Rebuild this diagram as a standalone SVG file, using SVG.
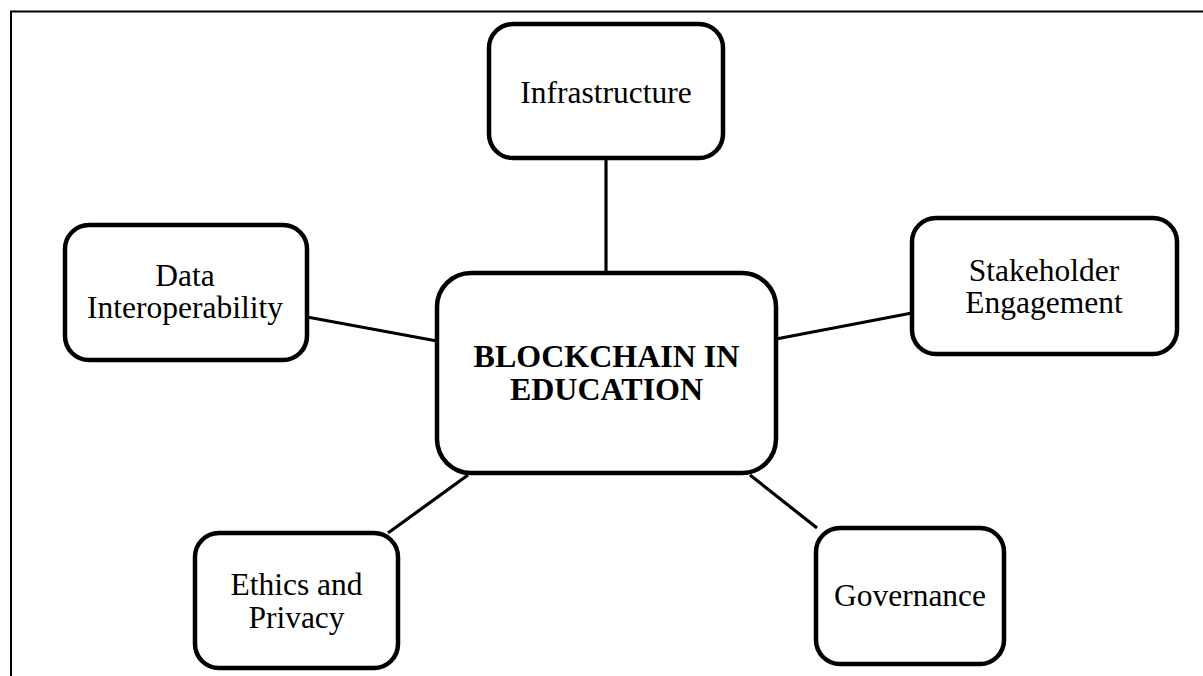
<svg xmlns="http://www.w3.org/2000/svg" width="1203" height="676" viewBox="0 0 1203 676">
  <style>
    .box { fill: #ffffff; stroke: #000000; stroke-width: 4.5; }
    .link { stroke: #000000; stroke-width: 3.2; fill: none; }
    .label { font-family: "Liberation Serif", "Times New Roman", serif; font-size: 31.5px; fill: #000000; text-anchor: middle; }
    .title { font-family: "Liberation Serif", "Times New Roman", serif; font-size: 32px; font-weight: bold; fill: #000000; text-anchor: middle; }
    .frame { stroke: #000000; stroke-width: 2; fill: none; }
  </style>

  <rect x="0" y="0" width="1203" height="676" fill="#ffffff"/>

  <!-- page frame: top and left edges -->
  <path class="frame" d="M1203 11.5 H11 V676"/>

  <!-- spokes from the centre -->
  <g id="connectors">
    <line class="link" x1="606" y1="158" x2="606" y2="273"/>
    <line class="link" x1="307" y1="317" x2="437" y2="341"/>
    <line class="link" x1="912" y1="313" x2="776" y2="339"/>
    <line class="link" x1="388" y1="533" x2="468" y2="475"/>
    <line class="link" x1="817" y1="528" x2="750" y2="475"/>
  </g>

  <g id="node-center">
    <rect class="box" x="437" y="273" width="339" height="200" rx="34" ry="34"/>
    <text class="title" x="606.5" y="367">BLOCKCHAIN IN</text>
    <text class="title" x="606.5" y="399.5">EDUCATION</text>
  </g>

  <g id="node-infrastructure">
    <rect class="box" x="489" y="24" width="234" height="134" rx="24" ry="24"/>
    <text class="label" x="606" y="103">Infrastructure</text>
  </g>

  <g id="node-data">
    <rect class="box" x="65" y="225" width="242" height="135" rx="24" ry="24"/>
    <text class="label" x="185" y="286">Data</text>
    <text class="label" x="185" y="318">Interoperability</text>
  </g>

  <g id="node-stakeholder">
    <rect class="box" x="912" y="218" width="265" height="136" rx="24" ry="24"/>
    <text class="label" x="1044" y="280.5">Stakeholder</text>
    <text class="label" x="1044" y="312.5">Engagement</text>
  </g>

  <g id="node-ethics">
    <rect class="box" x="195" y="533" width="203" height="135" rx="24" ry="24"/>
    <text class="label" x="296.5" y="595">Ethics and</text>
    <text class="label" x="296.5" y="628">Privacy</text>
  </g>

  <g id="node-governance">
    <rect class="box" x="816" y="528" width="188" height="136" rx="24" ry="24"/>
    <text class="label" x="910" y="606">Governance</text>
  </g>
</svg>
